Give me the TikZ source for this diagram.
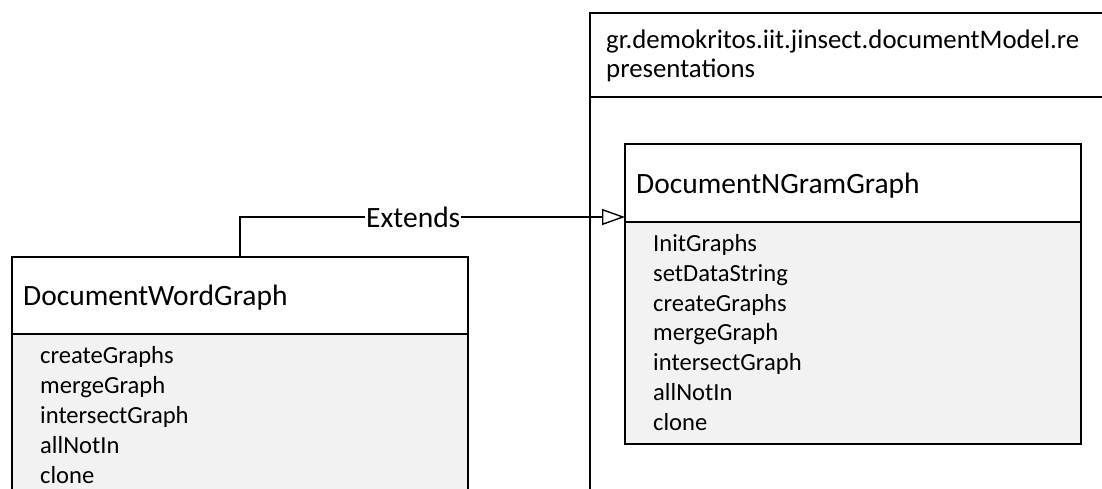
\documentclass[tikz,border=0pt]{standalone}
\usepackage{fontspec}
\setmainfont{Carlito}
\usetikzlibrary{arrows.meta}
\definecolor{opfill}{HTML}{F2F2F2}
\begin{document}
\begin{tikzpicture}[x=1pt,y=-1pt,
  box/.style={draw=black, line width=1.4pt, inner sep=0pt, outer sep=0pt, anchor=north west},
  ops/.style={box, fill=opfill},
  titletext/.style={anchor=base west, inner sep=0pt, font=\fontsize{29.5}{35}\selectfont},
  optext/.style={anchor=base west, inner sep=0pt, align=left},
  extends/.style={draw=black, line width=1.4pt, -{Triangle[open, length=23pt, width=16pt, line width=1.4pt]}}]
\useasboundingbox (0,0) rectangle (1102,488);
\clip (0,0) rectangle (1102,488);
\fill[white] (0,0) rectangle (1102,488);

% package frame (multi-line texts are placed by the baseline of their last line)
\node[box, fill=white, minimum width=530, minimum height=84] (pkghead) at (590,13) {};
\node[box, minimum width=530, minimum height=420] (pkgbody) at (590,97) {};
\node[anchor=base west, inner sep=0pt, align=left, font=\fontsize{26.8}{29}\selectfont] (pkgname) at (606,77)
  {gr.demokritos.iit.jinsect.documentModel.re\\presentations};

% DocumentNGramGraph class
\node[box, fill=white, minimum width=456, minimum height=78] (ntitle) at (625,144) {};
\node[ops, minimum width=456, minimum height=222] (nops) at (625,222) {};
\node[titletext] (nname) at (636,193) {DocumentNGramGraph};
\node[optext, font=\fontsize{24.6}{29.67}\selectfont] (nlist) at (653,430)
  {InitGraphs\\setDataString\\createGraphs\\mergeGraph\\intersectGraph\\allNotIn\\clone};

% DocumentWordGraph class
\node[box, fill=white, minimum width=456, minimum height=77] (wtitle) at (12,257) {};
\node[ops, minimum width=456, minimum height=180] (wops) at (12,334) {};
\node[titletext] (wname) at (23,305) {DocumentWordGraph};
\node[optext, font=\fontsize{24.6}{30}\selectfont] (wlist) at (40,483)
  {createGraphs\\mergeGraph\\intersectGraph\\allNotIn\\clone};

% generalisation
\draw[extends] ([xshift=228pt]wtitle.north west) |- ([yshift=5pt]ntitle.south west)
  node[pos=0.725, fill=white, inner sep=1pt, font=\fontsize{29.5}{35}\selectfont] (extlabel) {Extends};
\end{tikzpicture}
\end{document}
